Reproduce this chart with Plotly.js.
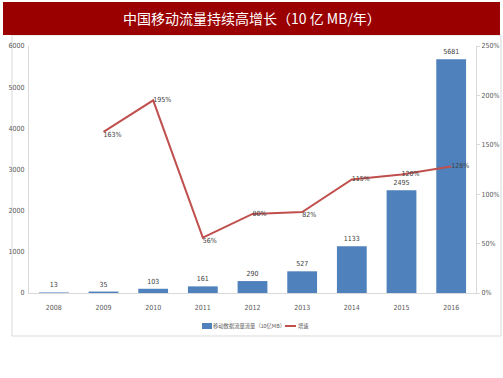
<!DOCTYPE html>
<html><head><meta charset="utf-8">
<script src="https://cdn.plot.ly/plotly-3.0.1.min.js"></script>
<style>html,body{margin:0;padding:0;background:#fff;}#c{width:503px;height:378px;}</style>
</head><body><div id="c"></div>
<script>
const years = ['2008','2009','2010','2011','2012','2013','2014','2015','2016'];
const traffic = [13, 35, 103, 161, 290, 527, 1133, 2495, 5681];
const growthYears = ['2009','2010','2011','2012','2013','2014','2015','2016'];
const growth = [163, 195, 56, 80, 82, 115, 120, 128];
const growthPos = ['bottom right','middle right','bottom right','middle right','bottom right','middle right','middle right','middle right'];
const titleText = '中国移动流量持续高增长（10 亿 MB/年）';
const barName = '移动数据流量流量（10亿MB）';
const lineName = '增速';

const narrow = '"Liberation Sans Narrow","DejaVu Sans Condensed",sans-serif';
const tickFont = {family:narrow, size:7, color:'#595959'};
const lblFont = {family:narrow, size:7, color:'#404040'};
const L=29, R=476, T=46, B=293, W=R-L, H=B-T;
const px = v => (v-L)/W, py = v => (B-v)/H;

const data = [
 {type:'bar', x:years, y:traffic, name:barName, marker:{color:'#4f81bd'},
  text:traffic.map(String), textposition:'outside', textfont:lblFont, cliponaxis:false, yaxis:'y'},
 {type:'scatter', mode:'lines+text', x:growthYears, y:growth, name:lineName, yaxis:'y2',
  line:{color:'#c0504d', width:2}, text:growth.map(v=>v+'%'), textposition:growthPos,
  textfont:lblFont, cliponaxis:false}
];
const legFont = {family:'"Noto Sans CJK SC",sans-serif', size:5.3, color:'#595959'};
const layout = {
 width:503, height:378, margin:{l:L, r:503-R, t:T, b:378-B},
 paper_bgcolor:'#fff', plot_bgcolor:'#fff', bargap:0.4, showlegend:false,
 font:{family:'"Noto Sans CJK SC",sans-serif'},
 xaxis:{type:'category', tickfont:tickFont, showline:true, linecolor:'#d9d9d9', ticks:'', showgrid:false, zeroline:false, ticklabelstandoff:8},
 yaxis:{range:[0,6000], dtick:1000, tickfont:tickFont, showline:true, linecolor:'#d9d9d9', showgrid:false, zeroline:false, ticks:'', ticklabelstandoff:2},
 yaxis2:{overlaying:'y', side:'right', range:[0,250], dtick:50, ticksuffix:'%', tickfont:tickFont, showline:true, linecolor:'#d9d9d9', ticks:'outside', ticklen:3, tickcolor:'#d9d9d9', showgrid:false, zeroline:false},
 shapes:[
  {type:'rect', xref:'paper', yref:'paper', x0:px(12), x1:px(501), y0:py(336), y1:py(35), line:{color:'#d9d9d9', width:1}, fillcolor:'rgba(0,0,0,0)', layer:'below'},
  {type:'rect', xref:'paper', yref:'paper', x0:px(3), x1:px(500), y0:py(35), y1:py(2), line:{width:0}, fillcolor:'#9b0000'},
  {type:'rect', xref:'paper', yref:'paper', x0:px(202), x1:px(212), y0:py(329), y1:py(323), line:{width:0}, fillcolor:'#4f81bd'},
  {type:'line', xref:'paper', yref:'paper', x0:px(285), x1:px(296), y0:py(326), y1:py(326), line:{color:'#c0504d', width:2}}
 ],
 annotations:[
  {xref:'paper', yref:'paper', x:px(252), y:py(18), text:titleText, showarrow:false, xanchor:'center', yanchor:'middle', font:{family:'"Noto Sans CJK SC",sans-serif', size:14, color:'#ffffff'}},
  {xref:'paper', yref:'paper', x:px(213), y:py(326), text:barName, showarrow:false, xanchor:'left', yanchor:'middle', font:legFont, xshift:-2},
  {xref:'paper', yref:'paper', x:px(298), y:py(326), text:lineName, showarrow:false, xanchor:'left', yanchor:'middle', font:legFont, xshift:-2}
 ]
};
Plotly.newPlot('c', data, layout, {staticPlot:true});
</script></body></html>
